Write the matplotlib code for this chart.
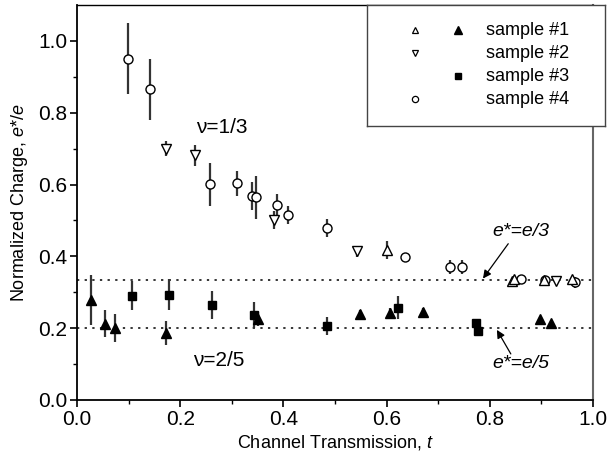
import matplotlib
matplotlib.use('Agg')
from matplotlib import pyplot as plt

plt.rcParams['font.family'] = ['Liberation Sans', 'DejaVu Sans']
plt.rcParams['mathtext.fontset'] = 'custom'
plt.rcParams['mathtext.rm'] = 'Liberation Sans'
plt.rcParams['mathtext.it'] = 'Liberation Sans:italic'

# sample #1, nu=1/3 (open up triangles)
s1_open_t = [0.600, 0.844, 0.848, 0.905, 0.960]
s1_open_q = [0.417, 0.330, 0.336, 0.335, 0.338]
s1_open_err = [0.025, 0.0, 0.0, 0.0, 0.0]
# sample #1, nu=2/5 (filled up triangles)
s1_t = [0.027, 0.053, 0.074, 0.172, 0.350, 0.548, 0.607, 0.671, 0.897, 0.918]
s1_q = [0.279, 0.212, 0.200, 0.186, 0.225, 0.239, 0.242, 0.245, 0.225, 0.213]
s1_err = [0.07, 0.038, 0.038, 0.034, 0.02, 0.01, 0.015, 0.01, 0.0, 0.0]
# sample #2 (open down triangles)
s2_t = [0.173, 0.228, 0.381, 0.543, 0.928]
s2_q = [0.700, 0.681, 0.502, 0.414, 0.330]
s2_err = [0.02, 0.03, 0.025, 0.015, 0.0]
# sample #3 (filled squares)
s3_t = [0.107, 0.178, 0.261, 0.343, 0.485, 0.623, 0.773, 0.778]
s3_q = [0.290, 0.293, 0.264, 0.236, 0.206, 0.256, 0.214, 0.193]
s3_err = [0.041, 0.044, 0.039, 0.036, 0.025, 0.032, 0.01, 0.01]
# sample #4 (open circles)
s4_t = [0.098, 0.142, 0.258, 0.309, 0.339, 0.346, 0.388, 0.408, 0.485,
        0.635, 0.724, 0.746, 0.860, 0.907, 0.966]
s4_q = [0.951, 0.865, 0.601, 0.604, 0.568, 0.564, 0.543, 0.516, 0.478,
        0.398, 0.370, 0.370, 0.337, 0.333, 0.328]
s4_err = [0.10, 0.085, 0.06, 0.035, 0.04, 0.06, 0.03, 0.025, 0.025,
          0.0, 0.02, 0.02, 0.0, 0.0, 0.015]

legend_labels = ['sample #1', 'sample #2', 'sample #3', 'sample #4']

fig = plt.figure(figsize=(6.08, 4.57), dpi=100)
ax = fig.add_axes([0.127, 0.125, 0.848, 0.864])

# fractional charge reference lines
ax.plot([0, 1], [1/3, 1/3], ls=(0, (1.5, 3.5)), c='black', lw=1.1, zorder=1)
ax.plot([0, 1], [0.2, 0.2], ls=(0, (1.5, 3.5)), c='black', lw=1.1, zorder=1)

ebar = dict(ls='none', ecolor='#333333', elinewidth=1.6, capsize=0, zorder=3)
ax.errorbar(s4_t, s4_q, yerr=s4_err, marker='o', ms=6.5, mfc='white', mec='black', mew=1.0, **ebar)
ax.errorbar(s2_t, s2_q, yerr=s2_err, marker='v', ms=7, mfc='white', mec='black', mew=1.0, **ebar)
ax.errorbar(s1_open_t, s1_open_q, yerr=s1_open_err, marker='^', ms=7, mfc='white', mec='black', mew=1.0, **ebar)
ax.errorbar(s1_t, s1_q, yerr=s1_err, marker='^', ms=7, mfc='black', mec='black', **ebar)
ax.errorbar(s3_t, s3_q, yerr=s3_err, marker='s', ms=6, mfc='black', mec='black', **ebar)

ax.set_xlim(0, 1.0)
ax.set_ylim(0, 1.1)
ax.set_xticks([0.0, 0.2, 0.4, 0.6, 0.8, 1.0])
ax.set_yticks([0.0, 0.2, 0.4, 0.6, 0.8, 1.0])
ax.set_xticks([0.1, 0.3, 0.5, 0.7, 0.9], minor=True)
ax.set_yticks([0.1, 0.3, 0.5, 0.7, 0.9], minor=True)
ax.xaxis.set_major_formatter(plt.FormatStrFormatter('%.1f'))
ax.yaxis.set_major_formatter(plt.FormatStrFormatter('%.1f'))
ax.tick_params(axis='both', which='major', direction='out', length=5, width=1.2, labelsize=15, pad=2)
ax.tick_params(axis='both', which='minor', direction='out', length=3, width=1.0)
for side in ['left', 'bottom']:
    ax.spines[side].set_linewidth(1.3)
ax.spines['top'].set_linewidth(1.0)
ax.spines['right'].set_color('#666666')
ax.spines['right'].set_linewidth(1.5)

ax.set_xlabel('Channel Transmission, $t$', fontsize=13, labelpad=3)
ax.set_ylabel('Normalized Charge, $e$*/$e$', fontsize=13, labelpad=6)

ax.text(0.28, 0.76, '\u03bd=1/3', fontsize=15, ha='center', va='center')
ax.text(0.275, 0.11, '\u03bd=2/5', fontsize=15, ha='center', va='center')

ax.text(0.86, 0.47, 'e*=e/3', fontsize=14, style='italic', ha='center', va='center')
ax.annotate('', xy=(0.787, 0.338), xytext=(0.836, 0.435),
            arrowprops=dict(arrowstyle='-|>', color='black', lw=0.9, shrinkA=0, shrinkB=0,
                            mutation_scale=12))
ax.text(0.86, 0.10, 'e*=e/5', fontsize=14, style='italic', ha='center', va='center')
ax.annotate('', xy=(0.814, 0.195), xytext=(0.841, 0.128),
            arrowprops=dict(arrowstyle='-|>', color='black', lw=0.9, shrinkA=0, shrinkB=0,
                            mutation_scale=12))

# hand-made legend box, extends past the right spine like the original
lax = fig.add_axes([0.604, 0.724, 0.391, 0.265])
lax.set_xlim(0, 1)
lax.set_ylim(0, 1)
lax.set_xticks([])
lax.set_yticks([])
for s in lax.spines.values():
    s.set_linewidth(1.0)
    s.set_color('#444444')
rows = [0.79, 0.60, 0.41, 0.22]
lax.plot(0.20, rows[0], marker='^', ms=5, mfc='white', mec='black', mew=0.9)
lax.plot(0.38, rows[0], marker='^', ms=5.5, mfc='black', mec='black')
lax.plot(0.20, rows[1], marker='v', ms=5, mfc='white', mec='black', mew=0.9)
lax.plot(0.38, rows[2], marker='s', ms=4.5, mfc='black', mec='black')
lax.plot(0.20, rows[3], marker='o', ms=4.5, mfc='white', mec='black', mew=0.9)
for y, lab in zip(rows, legend_labels):
    lax.text(0.50, y, lab, fontsize=13, va='center', ha='left')

plt.savefig('out.png', dpi=100)
